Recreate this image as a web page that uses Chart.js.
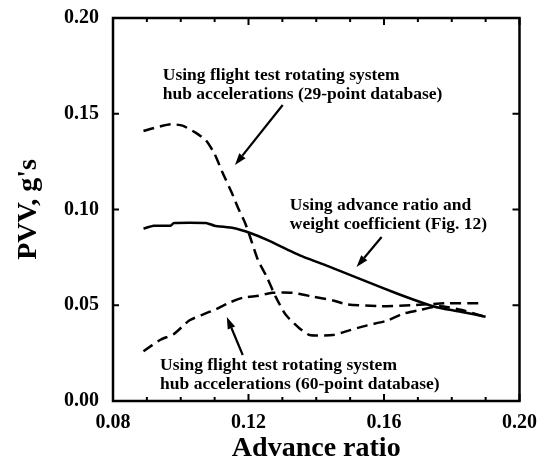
<!DOCTYPE html>
<html>
<head>
<meta charset="utf-8">
<script src="https://cdn.jsdelivr.net/npm/chart.js@4.4.0/dist/chart.umd.min.js"></script>
<style>
  html, body { margin: 0; padding: 0; background: #fff; }
  #wrap { width: 539px; height: 471px; }
</style>
</head>
<body>
<div id="wrap"><canvas id="myChart" width="539" height="471"></canvas></div>
<script>
// Advance ratio / PVV values
var fig12Mu  = [0.089, 0.092, 0.097, 0.098, 0.1075, 0.110, 0.1155, 0.1205, 0.1255, 0.135, 0.144, 0.154, 0.164, 0.1735, 0.178, 0.183, 0.190];
var fig12Pvv = [0.090, 0.0915, 0.0915, 0.093, 0.093, 0.0915, 0.0903, 0.0877, 0.0841, 0.0762, 0.070, 0.063, 0.056, 0.050, 0.048, 0.0465, 0.044];

var db29Mu  = [0.089, 0.093, 0.097, 0.1005, 0.1045, 0.1075, 0.110, 0.1124, 0.115, 0.117, 0.119, 0.1205, 0.1228, 0.1254, 0.128, 0.131, 0.135, 0.138, 0.145, 0.150, 0.155, 0.161, 0.1655, 0.1705, 0.1765, 0.183, 0.190];
var db29Pvv = [0.141, 0.143, 0.1445, 0.1438, 0.140, 0.136, 0.129, 0.119, 0.109, 0.1005, 0.093, 0.0855, 0.0736, 0.0648, 0.0545, 0.045, 0.038, 0.0345, 0.0345, 0.037, 0.0395, 0.042, 0.0455, 0.0475, 0.0495, 0.0475, 0.0438];

var db60Mu  = [0.089, 0.094, 0.098, 0.1025, 0.107, 0.1105, 0.1145, 0.1185, 0.123, 0.127, 0.133, 0.139, 0.145, 0.149, 0.159, 0.1685, 0.178, 0.1885];
var db60Pvv = [0.026, 0.032, 0.035, 0.042, 0.0455, 0.048, 0.0515, 0.054, 0.055, 0.0565, 0.0565, 0.0545, 0.0525, 0.0505, 0.0495, 0.050, 0.051, 0.051];

var xTickLabels = ["0.08", "0.12", "0.16", "0.20"];

// annotation text and arrows, in data units
var notes = [
  { x: 0.0947, y: 0.1702, lines: ["Using flight test rotating system", "hub accelerations (29-point database)"] },
  { x: 0.1322, y: 0.1023, lines: ["Using advance ratio and", "weight coefficient (Fig. 12)"] },
  { x: 0.0939, y: 0.0188, lines: ["Using flight test rotating system", "hub accelerations (60-point database)"] }
];
var arrows = [
  { from: [0.1301, 0.1546], to: [0.1160, 0.1232] },
  { from: [0.1593, 0.0856], to: [0.1519, 0.0700] },
  { from: [0.1183, 0.0240], to: [0.1136, 0.0439] }
];

function pts(xs, ys) {
  return xs.map(function (x, i) { return { x: x, y: ys[i] }; });
}

var serif = "'Liberation Serif', 'Times New Roman', serif";

// frame, inward ticks, arrows and labels
var decor = {
  id: "decor",
  afterDraw: function (chart) {
    var ctx = chart.ctx;
    var a = chart.chartArea;
    var xs = chart.scales.x, ys = chart.scales.y;
    ctx.save();
    ctx.strokeStyle = "#000";
    ctx.lineWidth = 2.5;
    ctx.strokeRect(a.left, a.top, a.right - a.left, a.bottom - a.top);

    ctx.lineWidth = 2;
    xs.ticks.forEach(function (t) {
      var px = xs.getPixelForValue(t.value);
      var major = Math.round(t.value * 100) % 4 === 0;
      var len = major ? 7 : 4;
      ctx.beginPath();
      ctx.moveTo(px, a.bottom); ctx.lineTo(px, a.bottom - len);
      ctx.moveTo(px, a.top); ctx.lineTo(px, a.top + len);
      ctx.stroke();
    });
    ys.ticks.forEach(function (t) {
      var py = ys.getPixelForValue(t.value);
      ctx.beginPath();
      ctx.moveTo(a.left, py); ctx.lineTo(a.left + 6, py);
      ctx.moveTo(a.right, py); ctx.lineTo(a.right - 7, py);
      ctx.stroke();
    });

    arrows.forEach(function (ar) {
      var x1 = xs.getPixelForValue(ar.from[0]), y1 = ys.getPixelForValue(ar.from[1]);
      var x2 = xs.getPixelForValue(ar.to[0]), y2 = ys.getPixelForValue(ar.to[1]);
      var ang = Math.atan2(y2 - y1, x2 - x1);
      var hl = 12, hw = 4;
      var bx = x2 - hl * Math.cos(ang), by = y2 - hl * Math.sin(ang);
      ctx.lineWidth = 2.2;
      ctx.beginPath();
      ctx.moveTo(x1, y1); ctx.lineTo(bx, by);
      ctx.stroke();
      ctx.beginPath();
      ctx.moveTo(x2, y2);
      ctx.lineTo(bx + hw * Math.sin(ang), by - hw * Math.cos(ang));
      ctx.lineTo(bx - hw * Math.sin(ang), by + hw * Math.cos(ang));
      ctx.closePath();
      ctx.fillStyle = "#000";
      ctx.fill();
    });

    ctx.fillStyle = "#000";
    ctx.font = "bold 17.5px " + serif;
    ctx.textAlign = "left";
    ctx.textBaseline = "middle";
    notes.forEach(function (n) {
      var px = xs.getPixelForValue(n.x), py = ys.getPixelForValue(n.y);
      n.lines.forEach(function (l, i) {
        ctx.fillText(l, px, py + i * 19);
      });
    });
    ctx.restore();
  }
};

var dash = [11, 6];

var ctx = document.getElementById("myChart").getContext("2d");
var myChart = new Chart(ctx, {
  type: "scatter",
  data: {
    datasets: [
      {
        label: "Fig. 12",
        data: pts(fig12Mu, fig12Pvv),
        showLine: true,
        borderColor: "#000",
        borderWidth: 2.5,
        pointRadius: 0,
        tension: 0.15
      },
      {
        label: "29-point database",
        data: pts(db29Mu, db29Pvv),
        showLine: true,
        borderColor: "#000",
        borderWidth: 2.5,
        borderDash: dash,
        pointRadius: 0,
        tension: 0.2
      },
      {
        label: "60-point database",
        data: pts(db60Mu, db60Pvv),
        showLine: true,
        borderColor: "#000",
        borderWidth: 2.5,
        borderDash: dash,
        pointRadius: 0,
        tension: 0.2
      }
    ]
  },
  options: {
    responsive: false,
    animation: false,
    layout: { padding: { top: 18, right: 19, left: 0, bottom: 0 } },
    plugins: {
      legend: { display: false },
      tooltip: { enabled: false }
    },
    scales: {
      x: {
        type: "linear",
        min: 0.08,
        max: 0.20,
        afterFit: function (s) { s.height = 70; },
        grid: { display: false },
        border: { display: false },
        ticks: {
          stepSize: 0.01,
          autoSkip: false,
          maxRotation: 0,
          padding: 2,
          color: "#000",
          font: { family: serif, size: 20, weight: "bold" },
          callback: function (v) {
            var s = v.toFixed(2);
            return xTickLabels.indexOf(s) >= 0 ? s : "";
          }
        },
        title: {
          display: true,
          text: "Advance ratio",
          color: "#000",
          font: { family: serif, size: 28, weight: "bold" },
          padding: { top: 0, bottom: 5 }
        }
      },
      y: {
        min: 0,
        max: 0.20,
        afterFit: function (s) { s.width = 113; },
        grid: { display: false },
        border: { display: false },
        ticks: {
          stepSize: 0.05,
          padding: 6,
          color: "#000",
          font: { family: serif, size: 20, weight: "bold" },
          callback: function (v) { return v.toFixed(2); }
        },
        title: {
          display: true,
          text: "PVV, g's",
          color: "#000",
          font: { family: serif, size: 28, weight: "bold" },
          padding: { top: 12, bottom: 0 }
        }
      }
    }
  },
  plugins: [decor]
});
</script>
</body>
</html>
